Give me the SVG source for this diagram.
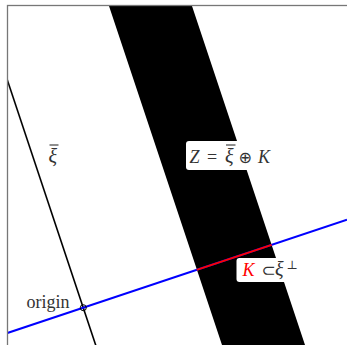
<svg xmlns="http://www.w3.org/2000/svg" width="347" height="345" viewBox="0 0 347 345">
<style>
.lbl{font-family:"Liberation Serif","DejaVu Serif",serif;font-size:18px;fill:#333}
.it{font-style:italic}
.xi{font-size:20px}
.sym{font-family:"DejaVu Sans",sans-serif}
.box{fill:#fff;stroke:none}
.bar{stroke:#333;stroke-width:1.1}
</style>
<defs>
<clipPath id="frame"><rect x="7.5" y="5.5" width="340" height="340"/></clipPath>
</defs>
<rect x="0" y="0" width="347" height="345" fill="#fff"/>
<g clip-path="url(#frame)">
<g id="band"><polygon points="109,6 192,6 305,345 222,345" fill="#000"/></g>
<g id="connectors">
<line id="xibar-line" x1="6.5" y1="77.5" x2="96" y2="346" stroke="#000" stroke-width="1.6"/>
<line id="xiperp-line" x1="0" y1="335.5" x2="347" y2="219.8" stroke="#0000ff" stroke-width="2"/>
<line id="K-segment" x1="196.7" y1="269.9" x2="271.7" y2="244.9" stroke="#ff0000" stroke-width="2"/>
</g>
</g>
<rect x="7.5" y="5.5" width="345" height="345" fill="none" stroke="#777" stroke-width="1.3"/>
<g id="origin">
<circle cx="83.3" cy="307.7" r="3" fill="none" stroke="#000" stroke-width="1"/>
<text class="lbl" x="26.5" y="308">origin</text>
</g>
<g id="xibar">
<text class="lbl it xi" x="48.5" y="163.3">ξ</text>
<line class="bar" x1="49.5" y1="145" x2="58.5" y2="145"/>
</g>
<g id="Z-label">
<rect class="box" x="186" y="141" width="95" height="29" rx="3"/>
<text class="lbl" y="163.3"><tspan class="it" x="189.5">Z</tspan><tspan x="207">=</tspan><tspan class="it xi" x="225">ξ</tspan><tspan class="sym" font-size="16" x="238.5">⊕</tspan><tspan class="it" x="258">K</tspan></text>
<line class="bar" x1="226" y1="145" x2="235.5" y2="145"/>
</g>
<g id="K-label">
<rect class="box" x="236.5" y="258" width="61" height="24" rx="3"/>
<text class="lbl" y="276"><tspan class="it" x="242.5" fill="#ff0000">K</tspan><tspan class="sym" x="261.5" font-size="17">⊂</tspan><tspan class="it xi" x="275">ξ</tspan><tspan x="286.5" dy="-7.5" font-size="12">⊥</tspan></text>
</g>
</svg>
